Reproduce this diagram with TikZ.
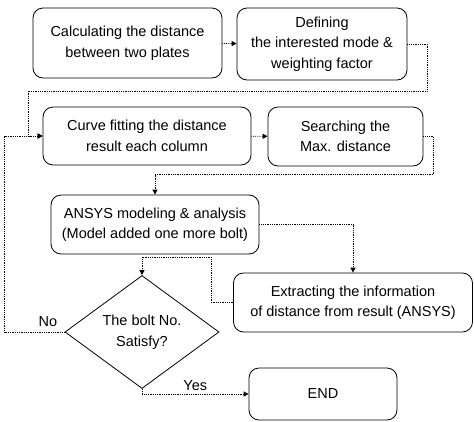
\documentclass[tikz,border=0pt]{standalone}
\usepackage{fontspec}
\setmainfont{Liberation Sans}
\usepackage{tikz}
\usetikzlibrary{shapes.geometric,arrows.meta}

\begin{document}
\begin{tikzpicture}[
  x=1pt, y=-1pt,
  line width=0.8pt,
  every node/.append style={
    align=center,
    font=\fontsize{14.5}{20.5}\selectfont
  },
  procbox/.style={draw, rounded corners=10pt, inner sep=2pt},
  testbox/.style={draw, shape=diamond, inner sep=0pt, minimum width=154pt, minimum height=100pt},
  flow/.style={densely dotted, -{Triangle[length=5pt,width=5pt]}}
]
\useasboundingbox (0,0) rectangle (474,421);

\begin{scope}[every node/.append style={procbox}]
  \node[minimum width=189pt, minimum height=70pt] (calc) at (127.5,43) {Calculating the distance\\ between two plates};
  \node[minimum width=170pt, minimum height=72pt] (define) at (322,44) {Defining\\ the interested mode \&\\ weighting factor};
  \node[minimum width=208pt, minimum height=58pt] (curve) at (147,136) {Curve fitting the distance\\ result each column};
  \node[minimum width=155pt, minimum height=59pt] (search) at (345.5,136.5) {Searching the\\ Max. distance};
  \node[minimum width=208pt, minimum height=59pt] (ansys) at (155,224.5) {ANSYS modeling \& analysis\\ (Model added one more bolt)};
  \node[minimum width=239pt, minimum height=59pt] (extract) at (353,302.5) {Extracting the information\\ of distance from result (ANSYS)};
  \node[minimum width=148pt, minimum height=52pt] (end) at (323,394) {END};
\end{scope}

\node[testbox] (test) at (142,332) {The bolt No.\\ Satisfy?};

\coordinate (bend1) at (28,91);

\draw[flow] (calc) -- (define);
\draw[flow] (define.east) -- ++(20,0) |- (bend1) |- (curve.west);
\draw[flow] (curve) -- (search);
\draw[flow] (search.east) -- ++(10,0) |- ([yshift=20pt]ansys.north) -- (ansys.north);
\draw[flow] (ansys.east) -| (extract.north);
\draw[flow] (extract.west) -- ++(-22,0) |- ([yshift=18pt]test.north) -- (test.north);
\draw[flow] (test.west) -- node[pos=0.28, above=2pt] {No} ++(-60,0) |- (curve.west);
\draw[flow] (test.south) |- node[pos=0.75, above] {Yes} (end.west);
\end{tikzpicture}
\end{document}
